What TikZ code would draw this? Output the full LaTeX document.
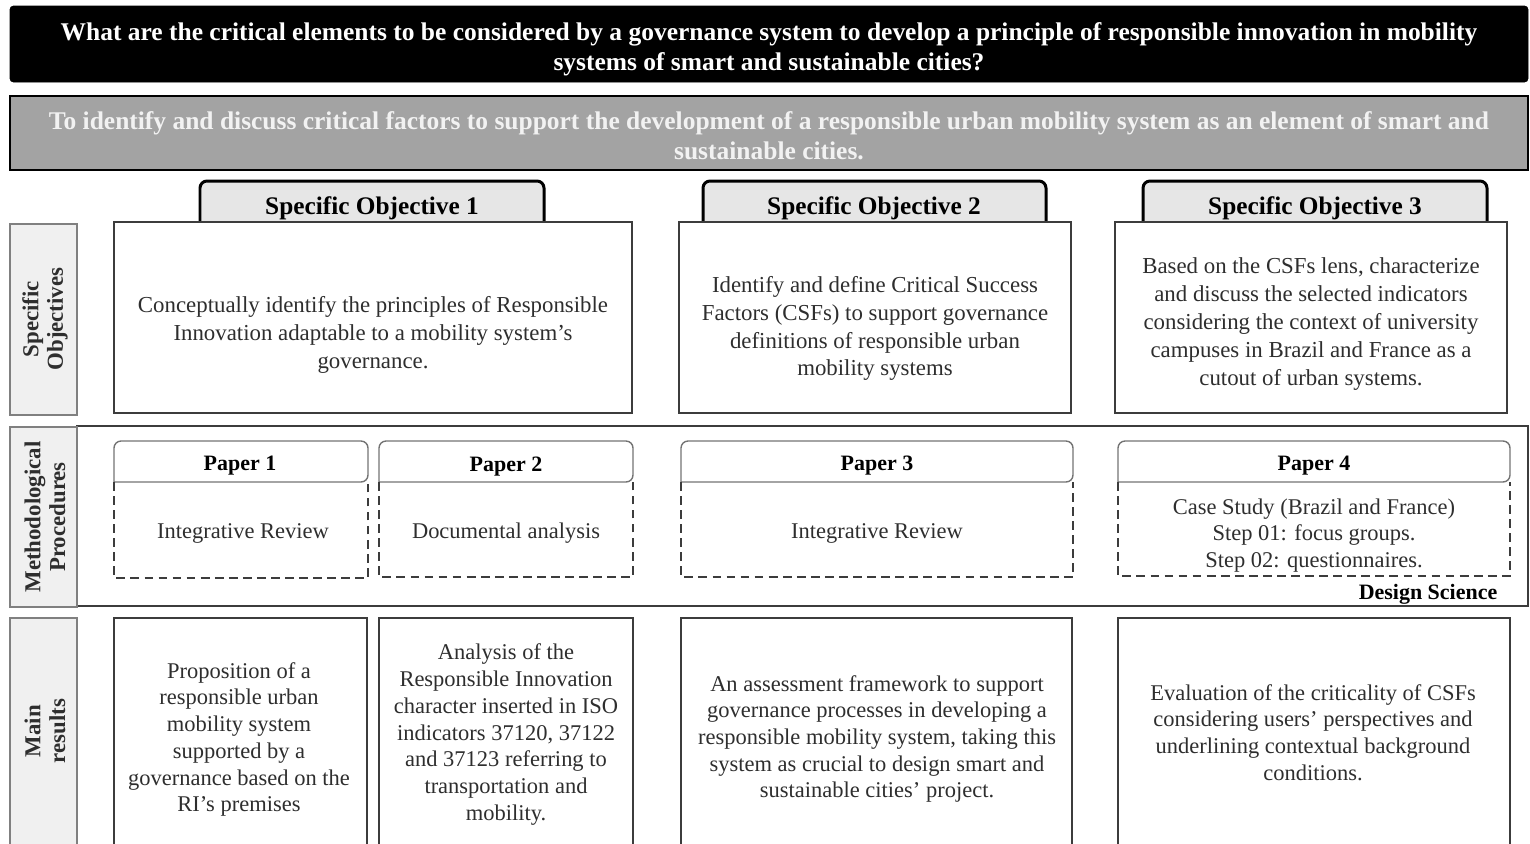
\documentclass[tikz,border=0pt]{standalone}
\usepackage{fontspec}
\setmainfont{Liberation Serif}
\definecolor{aimgray}{HTML}{A3A3A3}
\definecolor{aimtext}{HTML}{F2F2F2}
\definecolor{tabgray}{HTML}{E6E6E6}
\definecolor{sidegray}{HTML}{F0F0F0}
\definecolor{boxline}{HTML}{3C3C3C}
\definecolor{bodytext}{HTML}{2E2E2E}

\begin{document}
\begin{tikzpicture}[x=0.02cm,y=-0.02cm,
  headtext/.style={font=\fontsize{14.5}{17}\selectfont\bfseries, align=center},
  tabtext/.style={font=\fontsize{14.4}{17}\selectfont\bfseries, text=black},
  sidetext/.style={font=\fontsize{13}{14}\selectfont\bfseries, align=center, rotate=90, text=bodytext},
  body/.style={font=\fontsize{12.8}{15.2}\selectfont, align=center, text=bodytext},
  objtext/.style={font=\fontsize{13}{15.9}\selectfont, align=center, text=bodytext},
  paperhead/.style={font=\fontsize{12.5}{15}\selectfont\bfseries, text=black},
  objbox/.style={draw=boxline, line width=0.9pt, fill=white},
  tabbox/.style={draw=black, line width=1.7pt, fill=tabgray, rounded corners=4pt},
  sidebox/.style={draw=gray, line width=0.6pt, fill=sidegray},
  papertop/.style={draw=gray!90!black, line width=0.8pt, rounded corners=4pt},
  paperdash/.style={draw=boxline, line width=0.9pt, dashed, dash pattern=on 5pt off 3pt}]
\useasboundingbox (0,0) rectangle (1530,843);
\clip (0,0) rectangle (1530,843);

% research question and general aim
\filldraw[black, rounded corners=2pt] (10,6) rectangle (1528,82);
\node[headtext, text=white] (question) at (769,49)
  {What are the critical elements to be considered by a governance system to develop a principle of responsible innovation in mobility\\systems of smart and sustainable cities?};
\filldraw[fill=aimgray, draw=black, line width=1.6pt] (10,96) rectangle (1528,170);
\node[headtext, text=aimtext] (aim) at (769,136)
  {To identify and discuss critical factors to support the development of a responsible urban mobility system as an element of smart and\\sustainable cities.};

% side labels
\filldraw[sidebox] (10,224) rectangle (77,415);
\node[sidetext] (sidespec) at (45,319) {Specific\\Objectives};
\draw[boxline, line width=0.9pt] (77,426) rectangle (1528,606);
\filldraw[sidebox] (10,427) rectangle (77,607);
\node[sidetext] (sidemeth) at (45,517) {Methodological\\Procedures};
\filldraw[sidebox] (10,618) rectangle (77,860);
\node[sidetext] (sideres) at (45,731) {Main\\results};

% specific objectives
\filldraw[tabbox] (200,226) -- (200,181) -- (544,181) -- (544,226);
\filldraw[tabbox] (703,226) -- (703,181) -- (1046,181) -- (1046,226);
\filldraw[tabbox] (1143,226) -- (1143,181) -- (1487,181) -- (1487,226);
\node[tabtext] (so1tab) at (372,208) {Specific Objective 1};
\node[tabtext] (so2tab) at (874,208) {Specific Objective 2};
\node[tabtext] (so3tab) at (1315,208) {Specific Objective 3};
\filldraw[objbox] (114,222) rectangle (632,413);
\filldraw[objbox] (679,222) rectangle (1071,413);
\filldraw[objbox] (1115,222) rectangle (1507,413);
\node[objtext] (so1) at (373,334.5)
  {Conceptually identify the principles of Responsible\\Innovation adaptable to a mobility system's\\governance.};
\node[objtext] (so2) at (875,328.5)
  {Identify and define Critical Success\\Factors (CSFs) to support governance\\definitions of responsible urban\\mobility systems};
\node[objtext] (so3) at (1311,324)
  {Based on the CSFs lens, characterize\\and discuss the selected indicators\\considering the context of university\\campuses in Brazil and France as a\\cutout of urban systems.};

% methodological procedures
\draw[papertop] (114,482) -- (114,441) -- (368,441) -- (368,482) [sharp corners] -- cycle;
\draw[paperdash] (114,482) -- (114,578) -- (368,578) -- (368,482);
\draw[papertop] (379,482) -- (379,441) -- (633,441) -- (633,482) [sharp corners] -- cycle;
\draw[paperdash] (379,482) -- (379,577) -- (633,577) -- (633,482);
\draw[papertop] (681,482) -- (681,441) -- (1073,441) -- (1073,482) [sharp corners] -- cycle;
\draw[paperdash] (681,482) -- (681,577) -- (1073,577) -- (1073,482);
\draw[papertop] (1118,482) -- (1118,441) -- (1510,441) -- (1510,482) [sharp corners] -- cycle;
\draw[paperdash] (1118,482) -- (1118,576) -- (1510,576) -- (1510,482);
\node[paperhead] (p1head) at (240,466) {Paper 1};
\node[paperhead] (p2head) at (506,467) {Paper 2};
\node[paperhead] (p3head) at (877,466) {Paper 3};
\node[paperhead] (p4head) at (1314,466) {Paper 4};
\node[body] (p1text) at (243,533) {Integrative Review};
\node[body] (p2text) at (506,533) {Documental analysis};
\node[body] (p3text) at (877,533) {Integrative Review};
\node[body] (p4text) at (1314,535.5)
  {Case Study (Brazil and France)\\Step 01: focus groups.\\Step 02: questionnaires.};
\node[paperhead] (design) at (1428,594) {Design Science};

% main results
\filldraw[objbox] (114,618) rectangle (367,870);
\filldraw[objbox] (379,618) rectangle (633,870);
\filldraw[objbox] (681,618) rectangle (1072,870);
\filldraw[objbox] (1118,618) rectangle (1510,870);
\node[body] (r1) at (239,739.5)
  {Proposition of a\\responsible urban\\mobility system\\supported by a\\governance based on the\\RI's premises};
\node[body] (r2) at (506,734.5)
  {Analysis of the\\Responsible Innovation\\character inserted in ISO\\indicators 37120, 37122\\and 37123 referring to\\transportation and\\mobility.};
\node[body] (r3) at (877,739)
  {An assessment framework to support\\governance processes in developing a\\responsible mobility system, taking this\\system as crucial to design smart and\\sustainable cities' project.};
\node[body] (r4) at (1313,732.5)
  {Evaluation of the criticality of CSFs\\considering users' perspectives and\\underlining contextual background\\conditions.};
\end{tikzpicture}
\end{document}
